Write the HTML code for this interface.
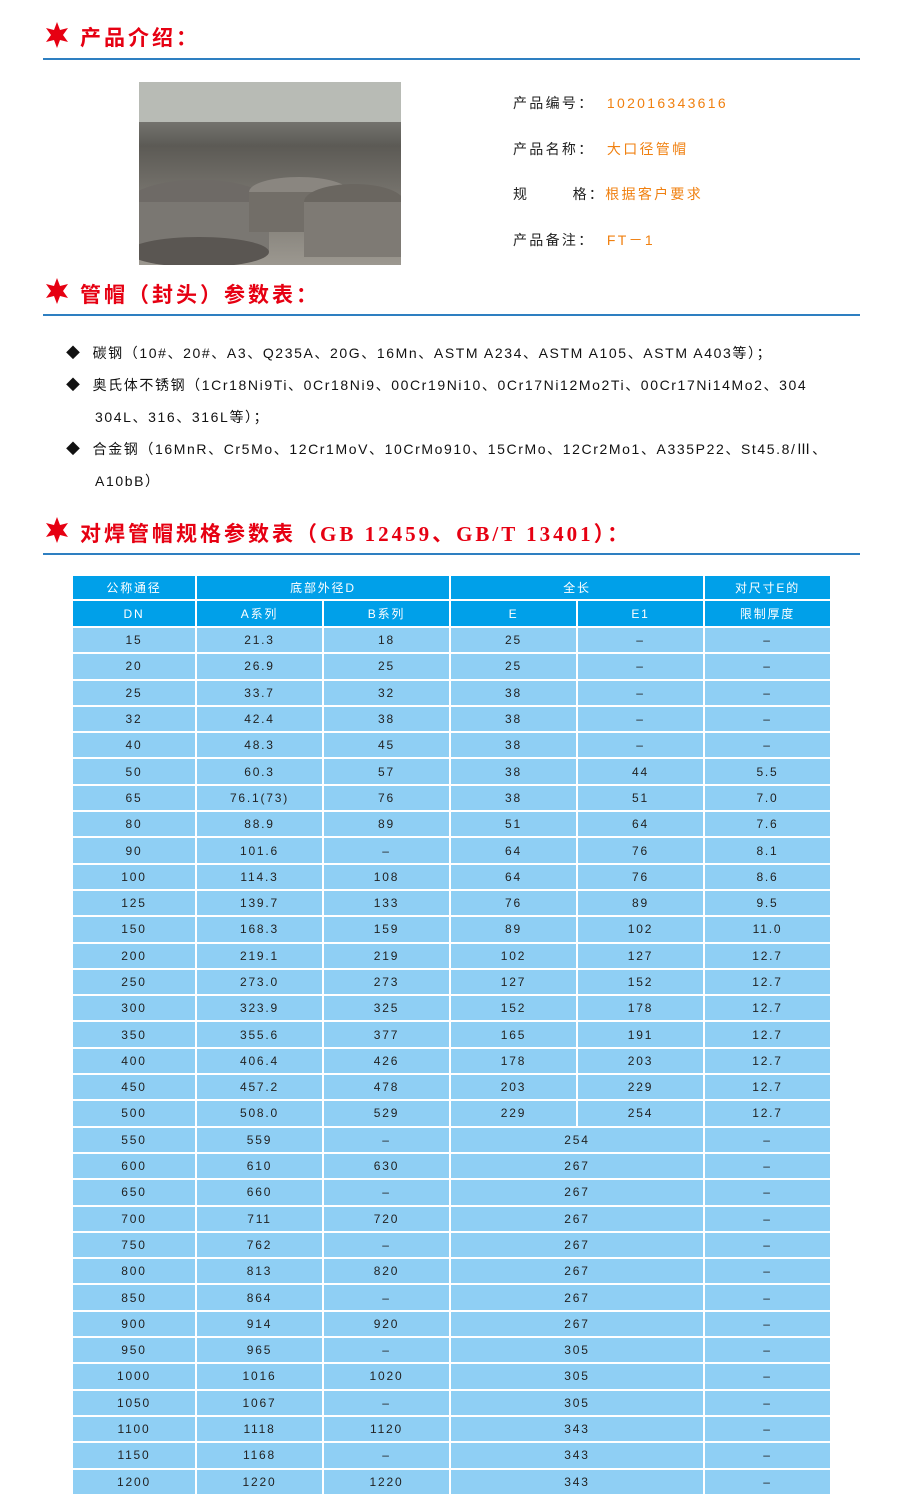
<!DOCTYPE html>
<html><head><meta charset="utf-8"><style>
body{margin:0;width:909px;height:1511px;background:#fff;position:relative;font-family:"Liberation Sans","Noto Sans CJK SC",sans-serif;overflow:hidden}
.a{position:absolute;white-space:nowrap}
.h{color:#e60012;font-size:21px;letter-spacing:3px;font-weight:bold}
.h3{font-family:"Liberation Serif","Noto Sans CJK SC",serif;font-weight:bold}
.line{position:absolute;left:43px;width:817px;height:2px;background:#2e7fc1}
.star{position:absolute;width:28px;height:28px}
.info{font-size:14px;color:#222;letter-spacing:2.3px}
.info span{color:#f08010}
.li{font-size:14px;color:#111;letter-spacing:1.6px}
table{position:absolute;left:71px;top:574px;border-collapse:collapse;table-layout:fixed;font-size:12px;letter-spacing:1.8px;color:#222}
td{border:2px solid #fff;text-align:center;padding:0;background:#8fcff4;height:24.3px}
tr.hd td{background:#00a0e9;color:#fff}
tr.r1 td{height:23px}
tr.r2 td{height:25px}
</style></head><body>
<svg class="star" style="left:43px;top:21px" viewBox="-14 -14 28 28"><polygon fill="#e60012" points="0,-13 3,-5 11,-7 6,0 11,7 3,5 0,13 -3,5 -11,7 -6,0 -11,-7 -3,-5"/></svg>
<div class="a h" style="left:80px;top:22px">产品介绍：</div>
<div class="line" style="top:58px"></div>
<svg class="a" style="left:139px;top:82px" width="262" height="183">
<defs><linearGradient id="g" x1="0" y1="0" x2="0" y2="1"><stop offset="0" stop-color="#9a9c98"/><stop offset=".35" stop-color="#5c5a55"/><stop offset="1" stop-color="#9c9890"/></linearGradient></defs>
<rect width="262" height="183" fill="url(#g)"/>
<rect width="262" height="40" fill="#b8bbb5"/>
<ellipse cx="60" cy="120" rx="70" ry="22" fill="#6e6a66"/><rect x="-10" y="120" width="140" height="50" fill="#7a7772"/><ellipse cx="60" cy="170" rx="70" ry="15" fill="#5a5652"/>
<ellipse cx="160" cy="110" rx="50" ry="15" fill="#8a8680"/><rect x="110" y="110" width="100" height="40" fill="#726e68"/>
<ellipse cx="215" cy="120" rx="50" ry="18" fill="#6a6660"/><rect x="165" y="120" width="100" height="55" fill="#7e7a74"/>
</svg>
<div class="a info" style="left:513px;top:93px">产品编号： <span>&nbsp;102016343616</span></div>
<div class="a info" style="left:513px;top:139px">产品名称： <span>&nbsp;大口径管帽</span></div>
<div class="a info" style="left:513px;top:184px">规&nbsp;&nbsp;&nbsp;&nbsp;&nbsp;&nbsp;&nbsp;格：<span>根据客户要求</span></div>
<div class="a info" style="left:513px;top:230px">产品备注： <span>&nbsp;FT－1</span></div>
<svg class="star" style="left:43px;top:277px" viewBox="-14 -14 28 28"><polygon fill="#e60012" points="0,-13 3,-5 11,-7 6,0 11,7 3,5 0,13 -3,5 -11,7 -6,0 -11,-7 -3,-5"/></svg>
<div class="a h" style="left:80px;top:279px">管帽（封头）参数表：</div>
<div class="line" style="top:314px"></div>
<div class="a li" style="left:66px;top:343px">◆&nbsp;&nbsp;碳钢（10#、20#、A3、Q235A、20G、16Mn、ASTM A234、ASTM A105、ASTM A403等）；</div>
<div class="a li" style="left:66px;top:375px">◆&nbsp;&nbsp;奥氏体不锈钢（1Cr18Ni9Ti、0Cr18Ni9、00Cr19Ni10、0Cr17Ni12Mo2Ti、00Cr17Ni14Mo2、304</div>
<div class="a li" style="left:95px;top:407px">304L、316、316L等）；</div>
<div class="a li" style="left:66px;top:439px">◆&nbsp;&nbsp;合金钢（16MnR、Cr5Mo、12Cr1MoV、10CrMo910、15CrMo、12Cr2Mo1、A335P22、St45.8/Ⅲ、</div>
<div class="a li" style="left:95px;top:471px">A10bB）</div>
<svg class="star" style="left:43px;top:516px" viewBox="-14 -14 28 28"><polygon fill="#e60012" points="0,-13 3,-5 11,-7 6,0 11,7 3,5 0,13 -3,5 -11,7 -6,0 -11,-7 -3,-5"/></svg>
<div class="a h h3" style="left:80px;top:518px">对焊管帽规格参数表（GB 12459、GB/T 13401）：</div>
<div class="line" style="top:553px"></div>
<table>
<colgroup><col style="width:124px"><col style="width:127px"><col style="width:127px"><col style="width:127px"><col style="width:127px"><col style="width:127px"></colgroup>
<tr class="hd r1"><td>公称通径</td><td colspan="2">底部外径D</td><td colspan="2">全长</td><td>对尺寸E的</td></tr>
<tr class="hd r2"><td>DN</td><td>A系列</td><td>B系列</td><td>E</td><td>E1</td><td>限制厚度</td></tr>
<tr><td>15</td><td>21.3</td><td>18</td><td>25</td><td>–</td><td>–</td></tr>
<tr><td>20</td><td>26.9</td><td>25</td><td>25</td><td>–</td><td>–</td></tr>
<tr><td>25</td><td>33.7</td><td>32</td><td>38</td><td>–</td><td>–</td></tr>
<tr><td>32</td><td>42.4</td><td>38</td><td>38</td><td>–</td><td>–</td></tr>
<tr><td>40</td><td>48.3</td><td>45</td><td>38</td><td>–</td><td>–</td></tr>
<tr><td>50</td><td>60.3</td><td>57</td><td>38</td><td>44</td><td>5.5</td></tr>
<tr><td>65</td><td>76.1(73)</td><td>76</td><td>38</td><td>51</td><td>7.0</td></tr>
<tr><td>80</td><td>88.9</td><td>89</td><td>51</td><td>64</td><td>7.6</td></tr>
<tr><td>90</td><td>101.6</td><td>–</td><td>64</td><td>76</td><td>8.1</td></tr>
<tr><td>100</td><td>114.3</td><td>108</td><td>64</td><td>76</td><td>8.6</td></tr>
<tr><td>125</td><td>139.7</td><td>133</td><td>76</td><td>89</td><td>9.5</td></tr>
<tr><td>150</td><td>168.3</td><td>159</td><td>89</td><td>102</td><td>11.0</td></tr>
<tr><td>200</td><td>219.1</td><td>219</td><td>102</td><td>127</td><td>12.7</td></tr>
<tr><td>250</td><td>273.0</td><td>273</td><td>127</td><td>152</td><td>12.7</td></tr>
<tr><td>300</td><td>323.9</td><td>325</td><td>152</td><td>178</td><td>12.7</td></tr>
<tr><td>350</td><td>355.6</td><td>377</td><td>165</td><td>191</td><td>12.7</td></tr>
<tr><td>400</td><td>406.4</td><td>426</td><td>178</td><td>203</td><td>12.7</td></tr>
<tr><td>450</td><td>457.2</td><td>478</td><td>203</td><td>229</td><td>12.7</td></tr>
<tr><td>500</td><td>508.0</td><td>529</td><td>229</td><td>254</td><td>12.7</td></tr>
<tr><td>550</td><td>559</td><td>–</td><td colspan="2">254</td><td>–</td></tr>
<tr><td>600</td><td>610</td><td>630</td><td colspan="2">267</td><td>–</td></tr>
<tr><td>650</td><td>660</td><td>–</td><td colspan="2">267</td><td>–</td></tr>
<tr><td>700</td><td>711</td><td>720</td><td colspan="2">267</td><td>–</td></tr>
<tr><td>750</td><td>762</td><td>–</td><td colspan="2">267</td><td>–</td></tr>
<tr><td>800</td><td>813</td><td>820</td><td colspan="2">267</td><td>–</td></tr>
<tr><td>850</td><td>864</td><td>–</td><td colspan="2">267</td><td>–</td></tr>
<tr><td>900</td><td>914</td><td>920</td><td colspan="2">267</td><td>–</td></tr>
<tr><td>950</td><td>965</td><td>–</td><td colspan="2">305</td><td>–</td></tr>
<tr><td>1000</td><td>1016</td><td>1020</td><td colspan="2">305</td><td>–</td></tr>
<tr><td>1050</td><td>1067</td><td>–</td><td colspan="2">305</td><td>–</td></tr>
<tr><td>1100</td><td>1118</td><td>1120</td><td colspan="2">343</td><td>–</td></tr>
<tr><td>1150</td><td>1168</td><td>–</td><td colspan="2">343</td><td>–</td></tr>
<tr><td>1200</td><td>1220</td><td>1220</td><td colspan="2">343</td><td>–</td></tr>
</table>
</body></html>
